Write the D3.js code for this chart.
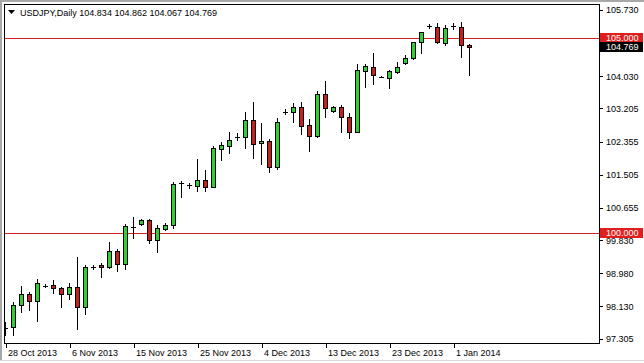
<!DOCTYPE html>
<html>
<head>
<meta charset="utf-8">
<script src="https://cdnjs.cloudflare.com/ajax/libs/d3/7.8.5/d3.min.js"></script>
<style>
  body { margin: 0; background: #fff; }
  svg text { font-family: "Liberation Sans", Arial, sans-serif; font-size: 9px; }
</style>
</head>
<body>
<div id="chart"></div>
<script>
// Daily USDJPY bars
var dates = [
  "2013-10-28", "2013-10-29", "2013-10-30", "2013-10-31", "2013-11-01", "2013-11-03", "2013-11-04", "2013-11-05",
  "2013-11-06", "2013-11-07", "2013-11-08", "2013-11-10", "2013-11-11", "2013-11-12", "2013-11-13", "2013-11-14",
  "2013-11-15", "2013-11-17", "2013-11-18", "2013-11-19", "2013-11-20", "2013-11-21", "2013-11-22", "2013-11-24",
  "2013-11-25", "2013-11-26", "2013-11-27", "2013-11-28", "2013-11-29", "2013-12-01", "2013-12-02", "2013-12-03",
  "2013-12-04", "2013-12-05", "2013-12-06", "2013-12-08", "2013-12-09", "2013-12-10", "2013-12-11", "2013-12-12",
  "2013-12-13", "2013-12-15", "2013-12-16", "2013-12-17", "2013-12-18", "2013-12-19", "2013-12-20", "2013-12-22",
  "2013-12-23", "2013-12-24", "2013-12-25", "2013-12-26", "2013-12-27", "2013-12-29", "2013-12-30", "2013-12-31",
  "2014-01-01", "2014-01-02", "2014-01-03"
];
var opens = [
  97.580, 97.594, 98.158, 98.450, 98.276, 98.665, 98.679, 98.594,
  98.440, 98.635, 98.122, 99.145, 99.190, 99.132, 99.550, 99.210,
  100.175, 100.235, 100.345, 99.833, 100.115, 100.217, 101.285, 101.235,
  101.225, 101.370, 101.199, 102.174, 102.250, 102.466, 102.466, 102.910,
  102.312, 102.371, 101.697, 103.115, 103.107, 103.235, 102.781, 102.507,
  103.568, 103.140, 103.250, 102.994, 102.610, 104.174, 104.276, 104.020,
  103.994, 104.140, 104.363, 104.492, 104.902, 105.315, 105.286, 104.892,
  105.325, 105.302, 104.834
];
var highs = [
  97.740, 98.251, 98.653, 98.507, 98.825, 98.700, 98.807, 98.620,
  98.720, 99.405, 99.190, 99.190, 99.250, 99.774, 99.600, 100.243,
  100.430, 100.370, 100.360, 100.217, 100.276, 101.330, 101.345, 101.300,
  101.910, 101.627, 102.250, 102.353, 102.610, 102.570, 103.122, 103.379,
  102.840, 102.415, 102.953, 103.200, 103.353, 103.363, 102.935, 103.660,
  103.917, 103.270, 103.294, 103.080, 104.345, 104.345, 104.635, 104.040,
  104.190, 104.404, 104.576, 104.917, 105.174, 105.370, 105.389, 105.346,
  105.389, 105.430, 104.862
];
var lows = [
  97.400, 97.397, 97.994, 98.040, 97.760, 98.620, 98.480, 98.120,
  98.330, 97.550, 97.930, 99.090, 98.890, 99.107, 99.045, 99.097,
  99.890, 100.220, 99.750, 99.530, 100.090, 100.130, 100.927, 101.170,
  101.097, 101.097, 101.184, 101.884, 102.070, 102.400, 102.199, 101.943,
  101.780, 101.584, 101.653, 103.060, 102.866, 102.543, 102.122, 102.466,
  102.980, 103.120, 102.610, 102.456, 102.594, 103.763, 103.833, 104.000,
  103.737, 104.122, 104.345, 104.474, 104.635, 105.260, 104.876, 104.833,
  105.250, 104.517, 104.067
];
var closes = [
  97.580, 98.166, 98.440, 98.276, 98.720, 98.665, 98.594, 98.440,
  98.627, 98.122, 99.148, 99.145, 99.130, 99.550, 99.210, 100.192,
  100.175, 100.345, 99.833, 100.130, 100.225, 101.261, 101.285, 101.235,
  101.370, 101.199, 102.184, 102.260, 102.397, 102.466, 102.910, 102.286,
  102.379, 101.697, 102.850, 103.115, 103.235, 102.763, 102.507, 103.576,
  103.210, 103.250, 102.994, 102.610, 104.192, 104.294, 104.063, 104.020,
  104.166, 104.260, 104.492, 104.902, 105.158, 105.315, 104.902, 105.261,
  105.325, 104.825, 104.769
];
var priceTicks = [105.730, 104.030, 103.205, 102.355, 101.505, 100.655, 99.830, 98.980, 98.130, 97.305];
var levels = [105.000, 100.000];

var svgWidth = 644;
var svgHeight = 363;
var plot = { left: 4, top: 4, right: 599, bottom: 343 };

var bars = dates.map(function(d, i) {
  return { date: d, open: opens[i], high: highs[i], low: lows[i], close: closes[i] };
});
var last = bars[bars.length - 1];

var svg = d3.select("#chart")
  .append("svg")
  .attr("width", svgWidth)
  .attr("height", svgHeight)
  .attr("shape-rendering", "crispEdges");

// window edges
svg.append("rect").attr("x", 0).attr("y", 0).attr("width", svgWidth).attr("height", 2).attr("fill", "#a8a8a8");
svg.append("rect").attr("x", 0).attr("y", 0).attr("width", 2).attr("height", 361).attr("fill", "#a8a8a8");
svg.append("rect").attr("x", 0).attr("y", 360).attr("width", svgWidth).attr("height", 1).attr("fill", "#d8d8d8");

// scales
var step = 8;
var xScale = d3.scalePoint()
  .domain(dates)
  .range([5, 5 + step * (dates.length - 1)]);

var yScale = d3.scaleLinear()
  .domain([97.192, 105.884])
  .range([plot.bottom, plot.top]);

var parseDate = d3.timeParse("%Y-%m-%d");
var fmtDate = d3.timeFormat("%-d %b %Y");
var fmtPrice = d3.format(".3f");

svg.append("clipPath").attr("id", "plotClip")
  .append("rect")
  .attr("x", plot.left).attr("y", plot.top)
  .attr("width", plot.right - plot.left).attr("height", plot.bottom - plot.top);

var chartGroup = svg.append("g").attr("clip-path", "url(#plotClip)");

// level lines
chartGroup.selectAll(".level")
  .data(levels)
  .enter()
  .append("line")
  .attr("x1", plot.left)
  .attr("x2", plot.right)
  .attr("y1", d => Math.round(yScale(d)) + 0.5)
  .attr("y2", d => Math.round(yScale(d)) + 0.5)
  .attr("stroke", "#d02020")
  .attr("stroke-width", 1);

// candles
var candle = chartGroup.selectAll(".candle")
  .data(bars)
  .enter()
  .append("g");

candle.append("line")
  .attr("x1", d => xScale(d.date) + 0.5)
  .attr("x2", d => xScale(d.date) + 0.5)
  .attr("y1", d => Math.round(yScale(d.high)))
  .attr("y2", d => Math.round(yScale(d.low)) + 1)
  .attr("stroke", "#000")
  .attr("stroke-width", 1);

candle.filter(d => Math.round(yScale(d.open)) !== Math.round(yScale(d.close)))
  .append("rect")
  .attr("x", d => xScale(d.date) - 1.5)
  .attr("y", d => Math.round(yScale(Math.max(d.open, d.close))) + 0.5)
  .attr("width", 4)
  .attr("height", d => Math.round(yScale(Math.min(d.open, d.close))) - Math.round(yScale(Math.max(d.open, d.close))))
  .attr("fill", d => d.close >= d.open ? "#33cc33" : "#c42020")
  .attr("stroke", "#000")
  .attr("stroke-width", 1);

candle.filter(d => Math.round(yScale(d.open)) === Math.round(yScale(d.close)))
  .append("line")
  .attr("x1", d => xScale(d.date) - 2)
  .attr("x2", d => xScale(d.date) + 3)
  .attr("y1", d => Math.round(yScale(d.close)) + 0.5)
  .attr("y2", d => Math.round(yScale(d.close)) + 0.5)
  .attr("stroke", "#000")
  .attr("stroke-width", 1);

// frame
svg.append("rect")
  .attr("x", plot.left + 0.5)
  .attr("y", plot.top + 0.5)
  .attr("width", plot.right - plot.left)
  .attr("height", plot.bottom - plot.top)
  .attr("fill", "none")
  .attr("stroke", "#000");

// x axis
var xAxis = d3.axisBottom(xScale)
  .tickValues(dates.filter((d, i) => i % 8 === 0))
  .tickFormat(d => fmtDate(parseDate(d)))
  .tickSize(4)
  .tickPadding(2);

var xAxisG = svg.append("g")
  .attr("transform", `translate(0.5,${plot.bottom + 0.5})`)
  .call(xAxis);
xAxisG.select(".domain").remove();
xAxisG.selectAll("text")
  .attr("text-anchor", "start")
  .attr("x", 2)
  .attr("y", 6)
  .attr("dy", "0.71em")
  .attr("fill", "#000");

// y axis on the right
var yAxis = d3.axisRight(yScale)
  .tickValues(priceTicks)
  .tickFormat(fmtPrice)
  .tickSize(3)
  .tickPadding(3);

var yAxisG = svg.append("g")
  .attr("transform", `translate(${plot.right + 1},0)`)
  .call(yAxis);
yAxisG.select(".domain").remove();
yAxisG.selectAll("text").attr("fill", "#000");

// price boxes on the right edge
var boxes = levels.map(v => ({ value: v, fill: "#e01e1e" }))
  .concat([{ value: last.close, fill: "#000" }]);

var boxG = svg.selectAll(".pbox")
  .data(boxes)
  .enter()
  .append("g")
  .attr("transform", d => `translate(${plot.right + 1},${Math.round(yScale(d.value))})`);

boxG.append("rect")
  .attr("x", 0)
  .attr("y", -5)
  .attr("width", 43)
  .attr("height", 10)
  .attr("fill", d => d.fill);

boxG.append("text")
  .attr("x", 6)
  .attr("y", 0)
  .attr("dy", "0.35em")
  .attr("fill", "#fff")
  .text(d => fmtPrice(d.value));

// header
svg.append("path")
  .attr("d", "M8,10 L15,10 L11.5,14 Z")
  .attr("fill", "#000")
  .attr("shape-rendering", "auto");

svg.append("text")
  .attr("x", 20)
  .attr("y", 16)
  .attr("fill", "#000")
  .text(`USDJPY,Daily  ${fmtPrice(last.open)} ${fmtPrice(last.high)} ${fmtPrice(last.low)} ${fmtPrice(last.close)}`);
</script>
</body>
</html>
